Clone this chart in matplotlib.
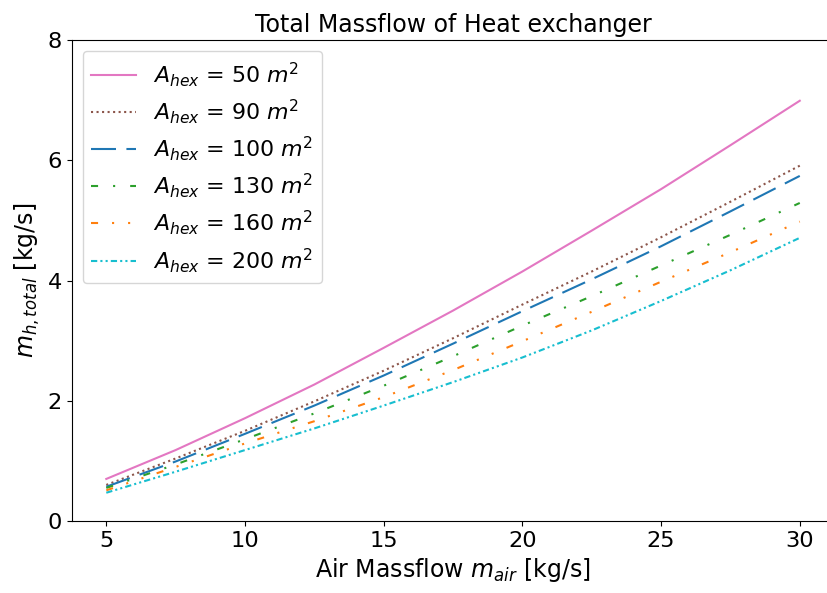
import numpy as np
import matplotlib.pyplot as plt

# Air massflow [kg/s]
m_air = [5, 7.5, 10, 12.5, 15, 17.5, 20, 22.5, 25, 27.5, 30]

# Total massflow [kg/s] per heat exchanger area
m_50 = [0.70, 1.18, 1.71, 2.27, 2.88, 3.50, 4.15, 4.83, 5.52, 6.25, 6.99]
m_90 = [0.60, 1.04, 1.50, 1.99, 2.50, 3.04, 3.60, 4.15, 4.72, 5.31, 5.91]
m_100 = [0.57, 0.99, 1.45, 1.92, 2.42, 2.95, 3.49, 4.02, 4.57, 5.15, 5.74]
m_130 = [0.55, 0.94, 1.36, 1.79, 2.25, 2.74, 3.25, 3.74, 4.25, 4.76, 5.29]
m_160 = [0.51, 0.90, 1.29, 1.66, 2.06, 2.51, 2.99, 3.48, 3.98, 4.47, 4.98]
m_200 = [0.47, 0.82, 1.18, 1.54, 1.92, 2.31, 2.72, 3.17, 3.66, 4.17, 4.71]

areas = [50, 90, 100, 130, 160, 200]
series = [m_50, m_90, m_100, m_130, m_160, m_200]
colors = ["tab:pink", "tab:brown", "tab:blue", "tab:green", "tab:orange", "tab:cyan"]
styles = ["-", ":", (0, (12, 5)), (0, (3.4, 7.2, 1, 7.2)),
          (0, (3.4, 6.7, 1, 6.7, 1, 6.7)), (0, (3, 1.5, 1, 1.5, 1, 1.5))]

fig = plt.figure(figsize=(8.27, 5.93), dpi=100)
ax = fig.add_axes([0.0866, 0.1214, 0.9224, 0.8111])

for A, y, c, ls in zip(areas, series, colors, styles):
    ax.plot(m_air, y, color=c, linestyle=ls, linewidth=1.5,
            label=r"$A_{hex}$ = " + str(A) + r" $m^2$")

ax.set_ylim(0, 8)
ax.set_yticks([0, 2, 4, 6, 8])
ax.set_xticks([5, 10, 15, 20, 25, 30])
ax.tick_params(labelsize=16.2)
ax.set_title("Total Massflow of Heat exchanger", fontsize=17)
ax.set_xlabel(r"Air Massflow $m_{air}$ [kg/s]", fontsize=17)
ax.set_ylabel(r"$m_{h,total}$ [kg/s]", fontsize=17)
ax.legend(loc="upper left", fontsize=15.9, labelspacing=0.38, handlelength=2.0)

fig.savefig("out.png", dpi=100)
